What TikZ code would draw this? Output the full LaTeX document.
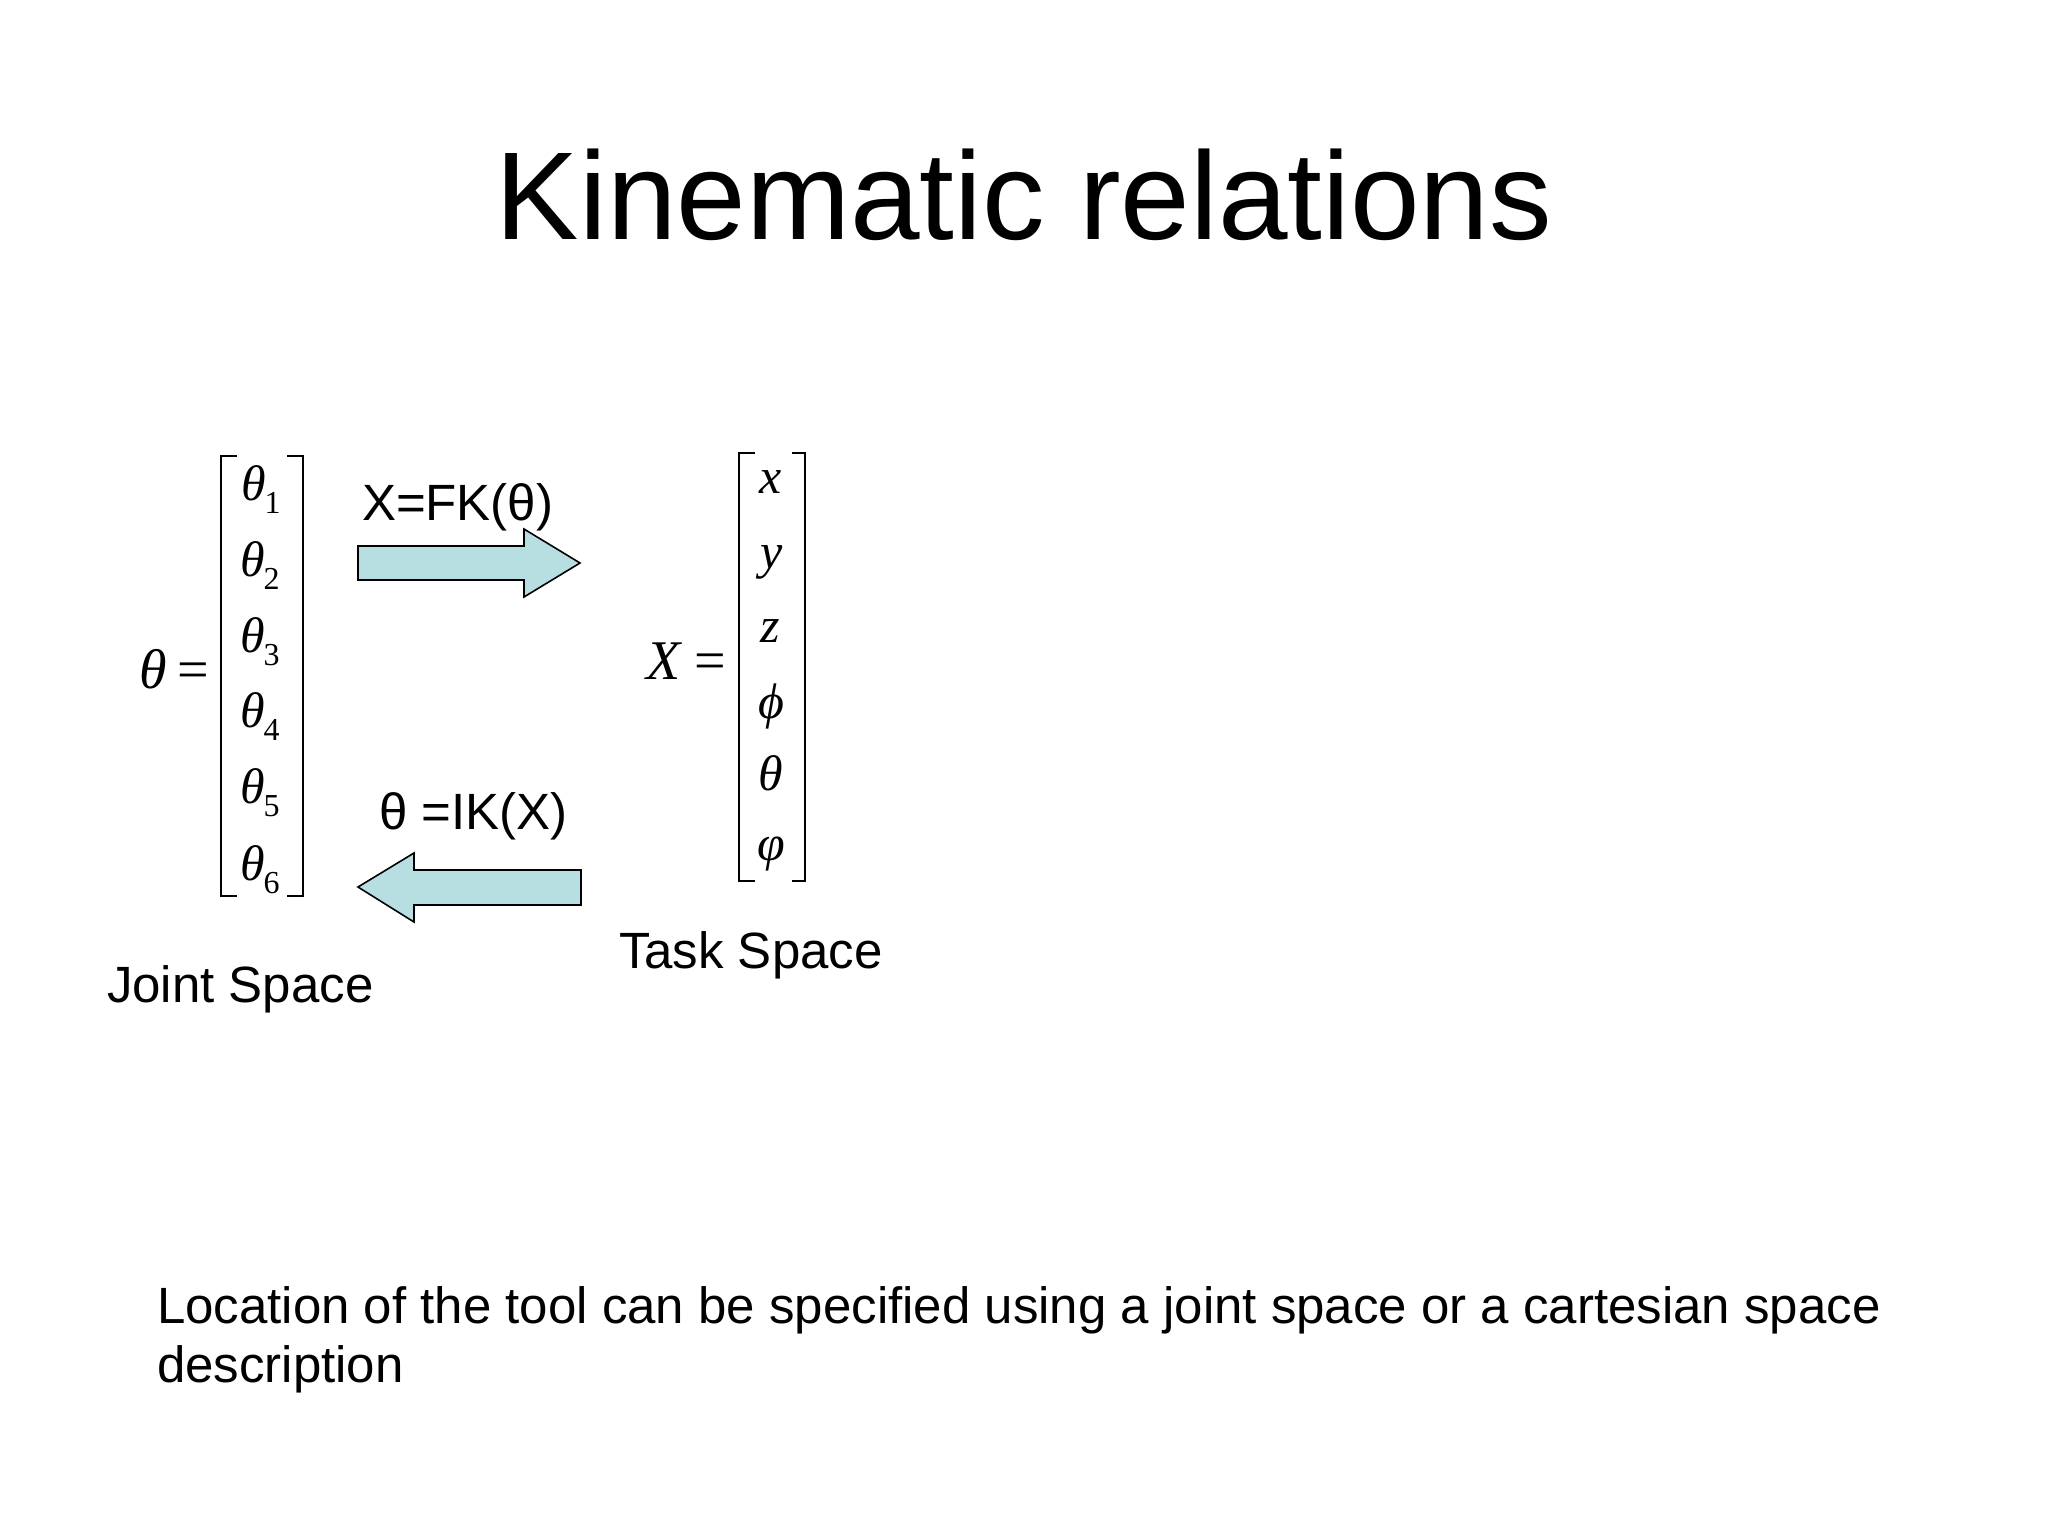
\documentclass[tikz,border=0pt]{standalone}
\usepackage{fontspec}
\setmainfont{Liberation Sans}
\newfontfamily\tms{Liberation Serif}
\definecolor{arrowfill}{RGB}{183,222,224}
\tikzset{
  lbl/.style={inner sep=0pt, outer sep=0pt, font=\fontsize{51}{60}\selectfont},
  ttl/.style={inner sep=0pt, outer sep=0pt, font=\fontsize{125}{150}\selectfont},
  ent/.style={inner sep=0pt, outer sep=0pt, anchor=base, font=\tms\itshape\fontsize{50}{54}\selectfont},
  eqn/.style={inner sep=0pt, outer sep=0pt, anchor=base west, font=\tms\itshape\fontsize{56}{60}\selectfont},
  brk/.style={draw=black, line width=2.2pt},
  blockarrow/.style={draw=black, line width=1.6pt, fill=arrowfill, line join=miter}
}
\newcommand{\thsub}[1]{θ\hspace{-1pt}\raisebox{-13pt}{\upshape\fontsize{32}{32}\selectfont #1}}
\begin{document}
\begin{tikzpicture}[x=1pt,y=-1pt]
\useasboundingbox[fill=white] (0,0) rectangle (2048,1536);

% title
\node[ttl, anchor=base] (title) at (1024,239) {Kinematic relations};

% joint space vector
\node[eqn] (theq) at (139,688) {θ\hspace{11pt}\upshape=};
\draw[brk] (237,456) -- (221,456) -- (221,896) -- (237,896);
\draw[brk] (287,456) -- (303,456) -- (303,896) -- (287,896);
\node[ent, anchor=base west] (t1) at (241,500) {\thsub{1}};
\node[ent, anchor=base west] (t2) at (240,576) {\thsub{2}};
\node[ent, anchor=base west] (t3) at (240,652) {\thsub{3}};
\node[ent, anchor=base west] (t4) at (240,727) {\thsub{4}};
\node[ent, anchor=base west] (t5) at (240,803) {\thsub{5}};
\node[ent, anchor=base west] (t6) at (240,880) {\thsub{6}};

% task space vector
\node[eqn] (xeq) at (646,679) {X\hspace{14pt}\upshape=};
\draw[brk] (755,453) -- (739,453) -- (739,881) -- (755,881);
\draw[brk] (792,453) -- (805,453) -- (805,881) -- (792,881);
\node[ent] (ex) at (771,493) {x};
\node[ent] (ey) at (772,568) {y};
\node[ent] (ez) at (770,642) {z};
\node[ent] (ephi) at (771,718) {ϕ};
\node[ent] (eth) at (771,790) {θ};
\node[ent] (evphi) at (771,860) {φ};

% arrows
\draw[blockarrow] (358,546) -- (524,546) -- (524,529) -- (580,563) -- (524,597) -- (524,580) -- (358,580) -- cycle;
\draw[blockarrow] (581,870) -- (414,870) -- (414,853) -- (358,887) -- (414,922) -- (414,905) -- (581,905) -- cycle;

% arrow labels
\node[lbl, anchor=base west] (fk) at (362,520) {X=FK(θ)};
\node[lbl, anchor=base west] (ik) at (379,829) {θ =IK(X)};

% space labels
\node[lbl, anchor=base west] (joint) at (107,1002) {Joint Space};
\node[lbl, anchor=base west] (task) at (619,968) {Task Space};

% bottom text
\node[lbl, anchor=base west] (loc1) at (157,1323) {Location of the tool can be specified using a joint space or a cartesian space};
\node[lbl, anchor=base west] (loc2) at (157,1382) {description};
\end{tikzpicture}
\end{document}
